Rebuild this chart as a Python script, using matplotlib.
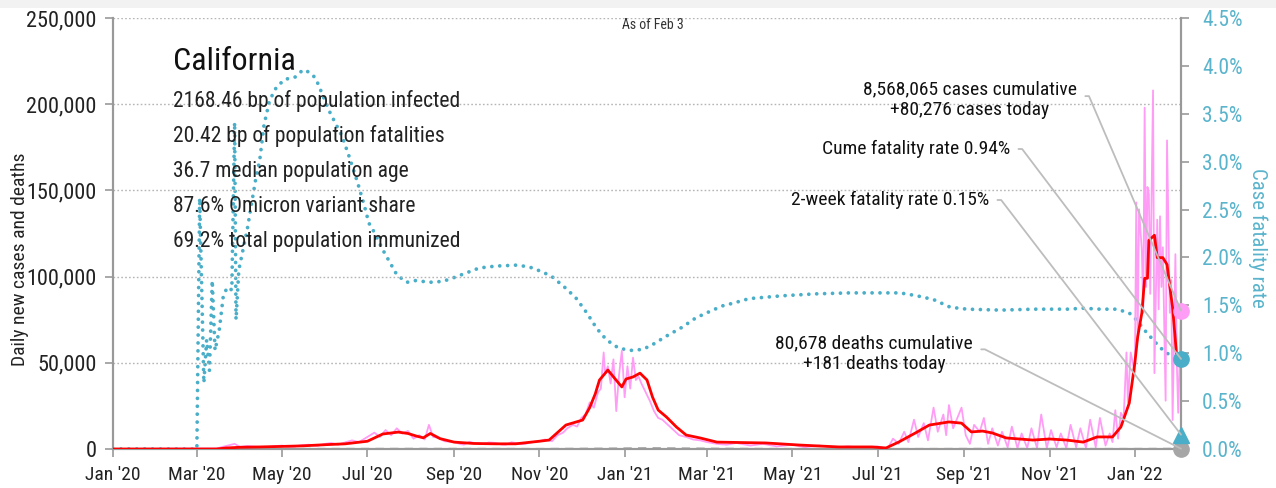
import math
import numpy as np
import pandas as pd
import matplotlib
matplotlib.use("Agg")
import matplotlib.pyplot as plt
import matplotlib.dates as mdates
from matplotlib.ticker import FuncFormatter, MultipleLocator
from matplotlib import font_manager
from matplotlib.text import Text

# ---------------- fonts ----------------
avail = {f.name for f in font_manager.fontManager.ttflist}
fam = None
for cand in ["Liberation Sans Narrow", "Roboto Condensed", "DejaVu Sans Condensed", "Open Sans Condensed", "Roboto"]:
    if cand in avail:
        fam = cand
        break
plt.rcParams["font.family"] = [fam or "DejaVu Sans", "DejaVu Sans"]

# ---------------- data ----------------
title_state = "California"
stats_lines = [
    "2168.46 bp of population infected",
    "20.42 bp of population fatalities",
    "36.7 median population age",
    "87.6% Omicron variant share",
    "69.2% total population immunized",
]
asof_label = "As of Feb 3"

# 7-day average of new cases (red)
avg_dates = ["2020-01-01", "2020-03-15", "2020-03-22", "2020-04-01", "2020-04-15", "2020-05-01",
             "2020-05-15", "2020-06-01", "2020-06-15", "2020-07-01", "2020-07-12", "2020-07-23",
             "2020-07-30", "2020-08-05", "2020-08-10", "2020-08-15", "2020-08-22", "2020-09-01",
             "2020-09-15", "2020-10-01", "2020-10-15", "2020-11-01", "2020-11-08", "2020-11-20",
             "2020-11-27", "2020-12-02", "2020-12-07", "2020-12-11", "2020-12-14", "2020-12-20",
             "2020-12-27", "2020-12-30", "2021-01-02", "2021-01-07", "2021-01-12", "2021-01-17",
             "2021-01-21", "2021-01-25", "2021-01-31", "2021-02-07", "2021-02-14", "2021-02-24",
             "2021-03-08", "2021-04-12", "2021-05-06", "2021-06-03", "2021-06-27", "2021-07-07",
             "2021-07-16", "2021-07-28", "2021-08-07", "2021-08-21", "2021-08-30", "2021-09-06",
             "2021-09-14", "2021-09-21", "2021-10-01", "2021-10-20", "2021-11-01", "2021-11-13",
             "2021-11-25", "2021-12-05", "2021-12-16", "2021-12-22", "2021-12-28", "2022-01-01",
             "2022-01-03", "2022-01-06", "2022-01-08", "2022-01-10", "2022-01-11", "2022-01-15",
             "2022-01-17", "2022-01-21", "2022-01-24", "2022-01-27", "2022-01-28", "2022-01-31",
             "2022-02-01", "2022-02-03"]
avg_cases = [0, 0, 600, 1000, 1200, 1500,
             1800, 2500, 3000, 4500, 8700, 9800,
             9000, 7500, 6500, 9000, 6000, 4000,
             3200, 3000, 3000, 4500, 5200, 13900,
             15600, 16800, 24000, 32000, 40000, 45800,
             38900, 36000, 40600, 41800, 44000, 40000,
             30000, 22600, 18500, 12800, 8100, 6400,
             4000, 3500, 2300, 1200, 1200, 600,
             4000, 9300, 13900, 15700, 15000, 9900,
             10400, 9300, 6400, 5200, 5800, 5200,
             4000, 7000, 7000, 12800, 26700, 50000,
             65000, 79000, 99000, 99000, 121000, 124000,
             111000, 111000, 107000, 88000, 82000, 53000,
             51600, 51000]

# daily new cases (pink)
daily_dates = ["2020-01-01", "2020-03-15", "2020-03-28", "2020-04-01", "2020-04-06", "2020-04-10",
               "2020-04-15", "2020-04-20", "2020-04-25", "2020-05-01", "2020-05-05", "2020-05-10",
               "2020-05-15", "2020-05-20", "2020-05-26", "2020-06-01", "2020-06-05", "2020-06-10",
               "2020-06-15", "2020-06-20", "2020-06-25", "2020-07-01", "2020-07-06", "2020-07-10",
               "2020-07-14", "2020-07-18", "2020-07-22", "2020-07-26", "2020-07-30", "2020-08-03",
               "2020-08-07", "2020-08-11", "2020-08-14", "2020-08-17", "2020-08-21", "2020-08-25",
               "2020-09-01", "2020-09-05", "2020-09-08", "2020-09-12", "2020-09-15", "2020-09-22",
               "2020-09-26", "2020-10-01", "2020-10-05", "2020-10-08", "2020-10-12", "2020-10-15",
               "2020-10-19", "2020-10-22", "2020-10-27", "2020-11-01", "2020-11-05", "2020-11-10",
               "2020-11-14", "2020-11-18", "2020-11-21", "2020-11-25", "2020-11-28", "2020-12-01",
               "2020-12-04", "2020-12-07", "2020-12-10", "2020-12-13", "2020-12-15", "2020-12-17",
               "2020-12-18", "2020-12-20", "2020-12-22", "2020-12-24", "2020-12-26", "2020-12-28",
               "2020-12-30", "2021-01-01", "2021-01-03", "2021-01-05", "2021-01-07", "2021-01-09",
               "2021-01-11", "2021-01-13", "2021-01-16", "2021-01-19", "2021-01-22", "2021-01-25",
               "2021-01-28", "2021-02-01", "2021-02-05", "2021-02-09", "2021-02-14", "2021-02-19",
               "2021-02-24", "2021-03-01", "2021-03-08", "2021-03-15", "2021-03-22", "2021-04-01",
               "2021-04-10", "2021-04-20", "2021-05-01", "2021-05-10", "2021-05-20", "2021-06-01",
               "2021-06-10", "2021-06-20", "2021-07-01", "2021-07-08", "2021-07-12", "2021-07-16",
               "2021-07-20", "2021-07-23", "2021-07-27", "2021-07-30", "2021-08-03", "2021-08-06",
               "2021-08-10", "2021-08-13", "2021-08-17", "2021-08-19", "2021-08-21", "2021-08-24",
               "2021-08-27", "2021-08-30", "2021-09-02", "2021-09-05", "2021-09-08", "2021-09-12",
               "2021-09-15", "2021-09-18", "2021-09-21", "2021-09-25", "2021-09-28", "2021-10-02",
               "2021-10-05", "2021-10-09", "2021-10-12", "2021-10-16", "2021-10-19", "2021-10-23",
               "2021-10-26", "2021-10-30", "2021-11-02", "2021-11-06", "2021-11-09", "2021-11-13",
               "2021-11-16", "2021-11-20", "2021-11-23", "2021-11-27", "2021-11-30", "2021-12-04",
               "2021-12-07", "2021-12-11", "2021-12-14", "2021-12-16", "2021-12-18", "2021-12-20",
               "2021-12-22", "2021-12-24", "2021-12-26", "2021-12-27", "2021-12-29", "2022-01-01",
               "2022-01-02", "2022-01-03", "2022-01-04", "2022-01-06", "2022-01-07", "2022-01-08",
               "2022-01-09", "2022-01-10", "2022-01-11", "2022-01-12", "2022-01-14", "2022-01-15",
               "2022-01-17", "2022-01-18", "2022-01-19", "2022-01-20", "2022-01-21", "2022-01-23",
               "2022-01-24", "2022-01-26", "2022-01-27", "2022-01-28", "2022-01-30", "2022-01-31",
               "2022-02-01", "2022-02-02", "2022-02-03"]
daily_cases = [0, 300, 3000, 1200, 1800, 1500,
               1100, 1000, 1600, 2000, 1300, 1500,
               2200, 2500, 1800, 3000, 3500, 2500,
               3800, 5000, 4000, 7000, 9500, 7000,
               11000, 8000, 12000, 9000, 10500, 6000,
               8000, 5500, 14000, 7000, 6500, 4500,
               4000, 3000, 2500, 4200, 3500, 3000,
               3800, 3500, 2600, 2500, 3900, 3500,
               2800, 3000, 4000, 4500, 5500, 4500,
               8000, 9500, 12000, 14000, 13000, 18000,
               20000, 27000, 24000, 33000, 35000, 56000,
               44000, 48000, 38000, 52000, 22000, 43000,
               57000, 30000, 48000, 35000, 53000, 40000,
               42000, 38000, 33000, 28000, 22000, 18000,
               17000, 14000, 11000, 8000, 7000, 5500,
               5000, 4000, 3000, 2500, 3500, 2000,
               3000, 1500, 2500, 1000, 2000, 800,
               1500, 500, 1500, 0, 6000, 3000,
               10000, 4000, 17000, 7000, 15000, 5000,
               24000, 10000, 20000, 8000, 25500, 12000,
               18000, 24000, 8000, 3000, 14000, 10000,
               18000, 3000, 12000, 2000, 10000, 1000,
               13000, 500, 9000, 500, 12000, 500,
               20000, 500, 11000, 1000, 9000, 500,
               14000, 1000, 12000, 500, 17000, 1000,
               18000, 2000, 9000, 4000, 22500, 6000,
               21000, 18000, 56000, 27000, 56000, 44000,
               143000, 63000, 139000, 115000, 79000, 198000,
               94000, 152000, 148000, 90000, 208000, 44000,
               133000, 81000, 135000, 94000, 117000, 28000,
               179000, 79000, 98000, 16800, 113000, 50000,
               21000, 50000, 80276]

# daily deaths, 7-day average (gray dashed)
death_dates = ["2020-01-01", "2020-03-15", "2020-04-15", "2020-06-01", "2020-08-01", "2020-09-15",
               "2020-11-01", "2020-12-15", "2021-01-20", "2021-03-01", "2021-04-15", "2021-06-15",
               "2021-08-01", "2021-09-15", "2021-11-01", "2021-12-15", "2022-01-15", "2022-02-03"]
death_avg = [0, 5, 80, 70, 130, 100, 40, 250, 550, 250, 60, 20, 40, 100, 50, 40, 100, 181]

# case fatality rate (teal dotted, right axis, %)
cfr_dates = ["2020-01-01", "2020-03-01", "2020-03-03", "2020-03-06", "2020-03-08", "2020-03-10",
             "2020-03-12", "2020-03-14", "2020-03-17", "2020-03-20", "2020-03-23", "2020-03-26",
             "2020-03-28", "2020-03-29", "2020-03-31", "2020-04-03", "2020-04-06", "2020-04-09",
             "2020-04-12", "2020-04-15", "2020-04-18", "2020-04-22", "2020-04-27", "2020-05-03",
             "2020-05-10", "2020-05-16", "2020-05-21", "2020-05-25", "2020-05-29", "2020-06-04",
             "2020-06-13", "2020-06-18", "2020-06-24", "2020-06-29", "2020-07-02", "2020-07-06",
             "2020-07-12", "2020-07-17", "2020-07-22", "2020-07-29", "2020-08-05", "2020-08-14",
             "2020-08-24", "2020-09-01", "2020-09-10", "2020-09-19", "2020-10-01", "2020-10-16",
             "2020-10-25", "2020-11-03", "2020-11-10", "2020-11-19", "2020-11-27", "2020-12-05",
             "2020-12-12", "2020-12-19", "2020-12-28", "2021-01-06", "2021-01-14", "2021-01-21",
             "2021-01-31", "2021-02-11", "2021-02-21", "2021-03-05", "2021-03-13", "2021-03-19",
             "2021-03-31", "2021-04-24", "2021-05-18", "2021-06-11", "2021-07-17", "2021-07-29",
             "2021-08-10", "2021-08-22", "2021-09-03", "2021-09-27", "2021-10-21", "2021-11-14",
             "2021-11-25", "2021-12-07", "2021-12-19", "2021-12-28", "2022-01-02", "2022-01-08",
             "2022-01-14", "2022-01-19", "2022-01-24", "2022-01-28", "2022-02-03"]
cfr_pct = [0, 0, 2.62, 0.69, 1.14, 0.82,
           1.76, 1.03, 1.24, 1.61, 1.69, 1.66,
           3.41, 1.35, 1.87, 2.08, 2.29, 2.55,
           2.81, 3.02, 3.38, 3.64, 3.78, 3.86,
           3.88, 3.96, 3.93, 3.87, 3.73, 3.52,
           3.26, 3.05, 2.78, 2.53, 2.36, 2.26,
           2.08, 1.95, 1.82, 1.74, 1.76, 1.74,
           1.75, 1.79, 1.84, 1.89, 1.91, 1.92,
           1.90, 1.85, 1.80, 1.69, 1.58, 1.42,
           1.26, 1.14, 1.05, 1.03, 1.04, 1.09,
           1.18, 1.27, 1.37, 1.45, 1.50, 1.52,
           1.57, 1.60, 1.62, 1.63, 1.63, 1.60,
           1.56, 1.48, 1.46, 1.45, 1.46, 1.46,
           1.47, 1.46, 1.46, 1.42, 1.35, 1.24,
           1.14, 1.06, 1.00, 0.97, 0.94]

last_date = "2022-02-03"
cases_today = 80276
deaths_today = 181
cume_cfr = 0.94
two_week_cfr = 0.15
cases_label = "8,568,065 cases cumulative\n+80,276 cases today"
cume_label = "Cume fatality rate 0.94%"
twoweek_label = "2-week fatality rate 0.15%"
deaths_label = "80,678 deaths cumulative\n+181 deaths today"

# ---------------- styling ----------------
TEAL = "#4aaec8"
TEAL_TXT = "#5ab4cc"
PINK = "#ff9cf5"
RED = "#ff0000"
GRAYLINE = "#bdbdbd"
SPINE = "#999999"

W, H = 1276, 488
fig = plt.figure(figsize=(W / 100, H / 100), dpi=100)
fig.patches.append(plt.Rectangle((0, 1 - 8 / H), 1, 8 / H, transform=fig.transFigure,
                                 facecolor="#f2f2f2", edgecolor="none", zorder=0))
ax = fig.add_axes([113 / W, 1 - 449 / H, (1181 - 113) / W, (449 - 18) / H])
ax2 = ax.twinx()
ax.set_zorder(ax2.get_zorder() + 1)
ax.patch.set_visible(False)

to_dt = lambda l: mdates.date2num(pd.to_datetime(l))

ax.plot(to_dt(daily_dates), daily_cases, color=PINK, lw=1.3, zorder=2)
ax.plot(to_dt(avg_dates), avg_cases, color=RED, lw=2.0, zorder=3)
ax.plot(to_dt(death_dates), death_avg, color="#aaaaaa", lw=1.5, ls=(0, (4, 3)), zorder=2)
ax2.plot(to_dt(cfr_dates), np.array(cfr_pct) / 100, color=TEAL, lw=2.7,
         ls=(0, (0.01, 2.1)), dash_capstyle="round", zorder=2)

x_end = float(mdates.date2num(pd.Timestamp(last_date)))
ax.set_xlim(float(mdates.date2num(pd.Timestamp("2020-01-01"))), x_end)
ax.set_ylim(0, 250000)
ax2.set_ylim(0, 0.045)

# end markers
ax.plot([x_end], [cases_today], "o", ms=11, color=PINK, clip_on=False, zorder=6)
ax.plot([x_end], [deaths_today], "o", ms=11, color="#a6a6a6", clip_on=False, zorder=6)
ax.plot([x_end], [cume_cfr / 100], "o", ms=11, color=TEAL, clip_on=False, zorder=6,
        transform=ax2.transData)
ax.plot([x_end], [two_week_cfr / 100], "^", ms=12, color=TEAL, clip_on=False, zorder=6,
        transform=ax2.transData)

# axes formatting
ax.yaxis.set_major_locator(MultipleLocator(50000))
ax.yaxis.set_major_formatter(FuncFormatter(lambda v, p: f"{int(v):,}"))
ax2.yaxis.set_major_locator(MultipleLocator(0.005))
ax2.yaxis.set_major_formatter(FuncFormatter(lambda v, p: f"{v*100:.1f}%"))
ax.xaxis.set_major_locator(mdates.MonthLocator(bymonth=[1, 3, 5, 7, 9, 11]))
ax.xaxis.set_major_formatter(mdates.DateFormatter("%b '%y"))

ax.grid(axis="y", color="#b5b5b5", ls=(0, (1.2, 1.6)), lw=1.0)
ax.set_axisbelow(True)

for a in (ax, ax2):
    a.spines["top"].set_visible(False)
    for s in ("left", "right", "bottom"):
        a.spines[s].set_color(SPINE)
        a.spines[s].set_linewidth(1.5)
ax.tick_params(axis="y", labelsize=16, colors="#222222", length=6, width=1.2, color=SPINE, pad=6)
ax.tick_params(axis="x", labelsize=14, colors="#222222", length=6, width=1.2, color=SPINE, pad=6)
ax2.tick_params(axis="y", labelsize=15.5, labelcolor=TEAL_TXT, length=6, width=1.2, color=SPINE, pad=9)
ax.set_ylabel("Daily new cases and deaths", fontsize=14, color="#222222", va="center")
ax.yaxis.set_label_coords((20 - 113) / 1068, 0.44)
ax2.set_ylabel("Case fatality rate", fontsize=15, color=TEAL_TXT, rotation=270, va="center")
ax2.yaxis.set_label_coords((1258 - 113) / 1068, 0.49)

# texts
fig.text(653 / W, 1 - 25 / H, asof_label, fontsize=10, ha="center", va="center", color="#333333")
fig.text(173 / W, 1 - 62 / H, title_state, fontsize=23, ha="left", va="center", color="#111111")
for i, line in enumerate(stats_lines):
    fig.text(173 / W, 1 - (101 + 35 * i) / H, line, fontsize=15.5, ha="left", va="center",
             color="#222222")

anns = []
def annotate(text, xy, trans, tx, ty, relpos_y):
    a = ax.annotate(text, xy=xy, xycoords=trans, xytext=(tx / W, 1 - ty / H),
                    textcoords="figure fraction", ha="center", va="center", fontsize=14,
                    color="#111111", multialignment="center", zorder=7,
                    arrowprops=dict(arrowstyle="-", color=GRAYLINE, lw=1.3, shrinkA=4, shrinkB=0,
                                    relpos=(1, relpos_y)),
                    annotation_clip=False)
    anns.append((a, trans, relpos_y))
    return a

annotate(cases_label, (x_end, cases_today), ax.transData, 970, 100, 0.6)
annotate(cume_label, (x_end, cume_cfr / 100), ax2.transData, 916, 149, 0.5)
annotate(twoweek_label, (x_end, two_week_cfr / 100), ax2.transData, 890, 200, 0.5)
annotate(deaths_label, (x_end, deaths_today), ax.transData, 874, 354, 0.62)

# elbow connectors: short horizontal piece then straight to the point
fig.canvas.draw()
r = fig.canvas.get_renderer()
for a, trans, rp in anns:
    bb = Text.get_window_extent(a, r)
    x0 = bb.x1 + 12
    y0 = bb.y0 + rp * bb.height
    tx, ty = trans.transform(a.xy)
    ang = math.degrees(math.atan2(ty - y0, tx - x0))
    a.arrow_patch.set_connectionstyle(f"angle,angleA=0,angleB={ang:.2f},rad=0")

fig.savefig("out.png", dpi=100)
